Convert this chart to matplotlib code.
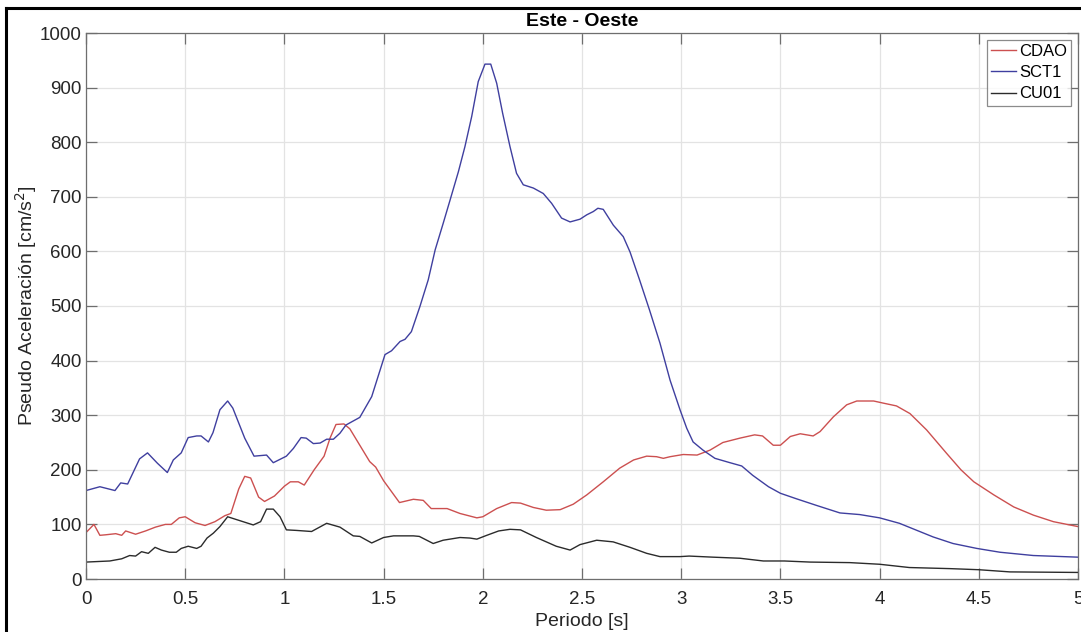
import matplotlib.pyplot as plt
from matplotlib.lines import Line2D

plt.rcParams['font.family'] = ['Liberation Sans', 'DejaVu Sans']

# CDAO (rojo)
t_cdao = [0.0, 0.04, 0.07, 0.1, 0.15, 0.18, 0.2, 0.25, 0.3, 0.35, 0.4, 0.43, 0.47, 0.5,
          0.55, 0.6, 0.65, 0.7, 0.73, 0.77, 0.8, 0.83, 0.87, 0.9, 0.95, 1.0, 1.03, 1.07,
          1.1, 1.15, 1.2, 1.23, 1.26, 1.3, 1.33, 1.38, 1.43, 1.46, 1.5, 1.55, 1.58, 1.65,
          1.7, 1.74, 1.82, 1.885, 1.97, 2.0, 2.07, 2.145, 2.19, 2.255, 2.32, 2.39, 2.456,
          2.524, 2.607, 2.69, 2.76, 2.826, 2.876, 2.91, 2.944, 3.01, 3.08, 3.145, 3.21,
          3.296, 3.37, 3.41, 3.464, 3.5, 3.55, 3.6, 3.665, 3.7, 3.767, 3.834, 3.885, 3.97,
          4.02, 4.085, 4.153, 4.237, 4.338, 4.41, 4.475, 4.576, 4.676, 4.775, 4.876, 5.0]
a_cdao = [85, 100, 80, 81, 83, 80, 88, 82, 88, 95, 100, 100, 112, 114,
          103, 98, 105, 116, 120, 165, 188, 185, 150, 142, 152, 170, 178, 178,
          172, 200, 225, 258, 283, 284, 275, 245, 215, 205, 180, 155, 140, 146,
          144, 129, 129, 120, 112, 114, 129, 140, 139, 131, 126, 127, 137,
          154, 178, 203, 218, 225, 224, 221, 224, 228, 227, 236, 250,
          258, 264, 262, 245, 245, 261, 266, 262, 270, 297, 319, 326, 326,
          322, 317, 303, 273, 230, 200, 178, 154, 132, 117, 105, 96]

# SCT1 (azul)
t_sct1 = [0.0, 0.07, 0.146, 0.175, 0.21, 0.27, 0.31, 0.36, 0.41, 0.44, 0.48, 0.515, 0.558,
          0.58, 0.617, 0.64, 0.675, 0.714, 0.74, 0.8, 0.847, 0.91, 0.944, 1.01, 1.045,
          1.084, 1.11, 1.146, 1.18, 1.213, 1.247, 1.28, 1.31, 1.38, 1.44, 1.507, 1.54,
          1.583, 1.608, 1.64, 1.683, 1.725, 1.76, 1.8, 1.835, 1.877, 1.91, 1.944, 1.977,
          2.011, 2.04, 2.07, 2.1, 2.137, 2.17, 2.204, 2.255, 2.305, 2.347, 2.397, 2.44,
          2.49, 2.524, 2.557, 2.58, 2.607, 2.658, 2.708, 2.742, 2.79, 2.84, 2.893, 2.944,
          2.994, 3.028, 3.06, 3.11, 3.17, 3.246, 3.305, 3.36, 3.44, 3.5, 3.58, 3.68, 3.8,
          3.9, 4.0, 4.1, 4.27, 4.37, 4.49, 4.607, 4.775, 5.0]
a_sct1 = [162, 169, 162, 176, 174, 220, 231, 212, 195, 218, 231, 259, 262,
          262, 251, 268, 310, 326, 313, 258, 225, 227, 213, 225, 239,
          259, 258, 248, 249, 256, 256, 267, 282, 296, 334, 411, 418,
          435, 439, 453, 499, 548, 603, 651, 694, 746, 792, 847, 911,
          943, 943, 908, 853, 792, 743, 722, 716, 706, 688, 661, 654,
          659, 667, 673, 679, 677, 648, 627, 599, 548, 493, 432, 364,
          310, 276, 251, 236, 221, 213, 207, 190, 169, 157, 147, 135, 121,
          118, 112, 102, 77, 65, 56, 49, 43, 40]

# CU01 (negro)
t_cu01 = [0.0, 0.12, 0.18, 0.22, 0.25, 0.28, 0.314, 0.348, 0.38, 0.42, 0.455, 0.48, 0.515,
          0.558, 0.58, 0.61, 0.642, 0.675, 0.714, 0.843, 0.88, 0.91, 0.944, 0.978, 1.01,
          1.06, 1.137, 1.213, 1.28, 1.347, 1.38, 1.44, 1.5, 1.55, 1.65, 1.68, 1.75, 1.8,
          1.885, 1.935, 1.97, 2.02, 2.08, 2.137, 2.19, 2.27, 2.37, 2.44, 2.49, 2.574,
          2.657, 2.742, 2.826, 2.893, 2.994, 3.04, 3.16, 3.296, 3.414, 3.52, 3.65, 3.85,
          4.0, 4.15, 4.355, 4.5, 4.657, 5.0]
a_cu01 = [31, 33, 37, 43, 42, 50, 47, 58, 53, 49, 49, 56, 60,
          56, 60, 75, 84, 96, 114, 99, 105, 128, 128, 114, 90,
          89, 87, 102, 95, 79, 78, 66, 76, 79, 79, 78, 65, 71,
          76, 75, 73, 80, 88, 91, 90, 76, 60, 53, 63, 71,
          68, 58, 47, 41, 41, 42, 40, 38, 33, 33, 31, 30,
          27, 21, 19, 17, 13, 12]

fig = plt.figure(figsize=(10.81, 6.32), dpi=100)
ax = fig.add_axes([86/1081, 1-579/632, (1078-86)/1081, (579-33)/632])

ax.plot(t_cdao, a_cdao, color='#cc5050', lw=1.0, label='CDAO')
ax.plot(t_sct1, a_sct1, color='#3f3f9f', lw=1.0, label='SCT1')
ax.plot(t_cu01, a_cu01, color='#2b2b2b', lw=1.0, label='CU01')

ax.set_xlim(0, 5)
ax.set_ylim(0, 1000)
ax.set_xticks([0, 0.5, 1, 1.5, 2, 2.5, 3, 3.5, 4, 4.5, 5])
ax.set_xticklabels(['0', '0.5', '1', '1.5', '2', '2.5', '3', '3.5', '4', '4.5', '5'])
ax.set_yticks(range(0, 1001, 100))
ax.grid(True, color='#e3e3e3', lw=0.9)
ax.set_axisbelow(True)
ax.tick_params(direction='in', length=8, width=0.9, top=True, right=True,
               labelsize=13.5, colors='#6e6e6e', labelcolor='#262626')
ax.tick_params(axis='x', pad=9)
ax.tick_params(axis='y', pad=3)
for s in ax.spines.values():
    s.set_color('#6e6e6e')
    s.set_linewidth(0.9)

ax.set_title('Este - Oeste', fontsize=14, fontweight='bold', pad=5)
ax.set_xlabel('Periodo [s]', fontsize=14, color='#262626', labelpad=3)
ax.set_ylabel('Pseudo Aceleración [cm/s$^2$]', fontsize=14, color='#262626', labelpad=1)

leg = ax.legend(loc='upper right', fontsize=12, frameon=True, fancybox=False,
                handlelength=1.5, handletextpad=0.2, borderpad=0.25, labelspacing=0.38,
                borderaxespad=0.4)
leg.get_frame().set_edgecolor('#6e6e6e')
leg.get_frame().set_linewidth(0.9)

# marco negro de la figura
fig.add_artist(Line2D([6/1081, 6/1081], [0, 1-8/632], color='black', lw=2.2))
fig.add_artist(Line2D([6/1081, 1], [1-8/632, 1-8/632], color='black', lw=2.2))

fig.savefig('out.png', dpi=100)
